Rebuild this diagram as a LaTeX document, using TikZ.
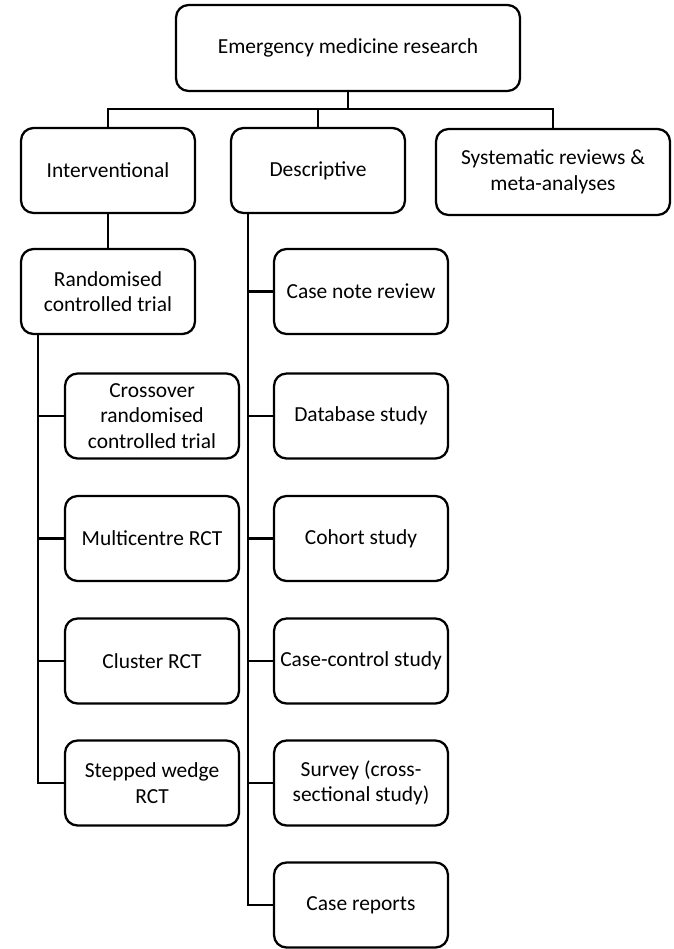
\documentclass[tikz,border=0pt]{standalone}
\usepackage{fontspec}
\setmainfont{Carlito}
\usetikzlibrary{positioning}

\tikzset{
  box/.style={draw, rounded corners=0.25cm, line width=1.3pt, minimum width=3.48cm,
    minimum height=1.7cm, align=center, inner sep=2pt, font=\fontsize{12.2}{14.5}\selectfont},
  link/.style={line width=1.3pt}
}

\begin{document}
\begin{tikzpicture}[x=0.02cm,y=-0.02cm]
      \useasboundingbox (0,0) rectangle (673,949);
      % top level
      \node[box, minimum width=6.88cm, minimum height=1.72cm] (top) at (348,48) {Emergency medicine research};
      \node[box] (interv) at (108,170.5) {Interventional};
      \node[box] (desc) at (318,170.5) {Descriptive};
      \node[box, minimum width=4.68cm, minimum height=1.72cm] (sysrev) at (553,172) {Systematic reviews \&\\meta-analyses};
      % interventional branch
      \node[box] (rct) at (108,291.5) {Randomised\\controlled trial};
      \node[box] (cross) at (152,416) {Crossover\\randomised\\controlled trial};
      \node[box] (multi) at (152,538.5) {Multicentre RCT};
      \node[box] (cluster) at (152,661) {Cluster RCT};
      \node[box] (stepped) at (152,783) {Stepped wedge\\RCT};
      % descriptive branch
      \node[box] (casenote) at (361,291.5) {Case note review};
      \node[box] (database) at (361,416) {Database study};
      \node[box] (cohort) at (361,538.5) {Cohort study};
      \node[box] (casectrl) at (361,661) {Case-control study};
      \node[box] (survey) at (361,783) {Survey (cross-\\sectional study)};
      \node[box] (casereports) at (361,905) {Case reports};

      \coordinate (bar) at (348,109);
      \draw[link] (top.south) -- (bar);
      \draw[link] (interv.north) |- (bar) -| (sysrev.north);
      \draw[link] (desc.north) -- (desc.north |- bar);
      \draw[link] (interv) -- (rct);

      \coordinate (rctspine) at ([xshift=0.36cm]rct.south west);
      \draw[link] (rctspine) |- (stepped.west);
      \foreach \n in {cross,multi,cluster} {\draw[link] (\n.west -| rctspine) -- (\n.west);}

      \coordinate (descspine) at ([xshift=0.36cm]desc.south west);
      \draw[link] (descspine) |- (casereports.west);
      \foreach \n in {casenote,database,cohort,casectrl,survey} {\draw[link] (\n.west -| descspine) -- (\n.west);}
   \end{tikzpicture}
\end{document}
